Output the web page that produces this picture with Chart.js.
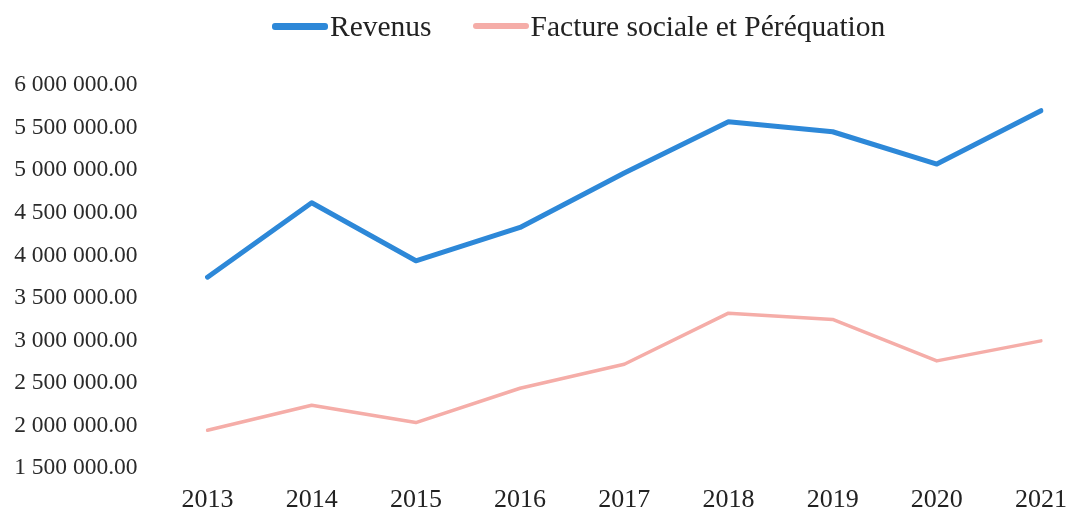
<!DOCTYPE html>
<html>
<head>
<meta charset="utf-8">
<script src="https://cdn.jsdelivr.net/npm/chart.js@4/dist/chart.umd.min.js"></script>
<style>
  html, body { margin: 0; padding: 0; background: #ffffff; }
  #wrap { position: relative; width: 1072px; height: 514px; }
  #c { position: absolute; left: 0; top: 0; }
  #legend {
    position: absolute; left: 272px; top: 8px; height: 36px;
    display: flex; align-items: center; gap: 41px;
    font-family: "Liberation Serif", "Times New Roman", serif; font-size: 29.5px;
    line-height: 36px; color: #222222; white-space: nowrap;
  }
  .lg-item { display: flex; align-items: center; }
  .lg-sw { display: inline-block; width: 56px; border-radius: 3px; margin-right: 2px; }
</style>
</head>
<body>
<div id="wrap">
  <canvas id="c" width="1072" height="514"></canvas>
  <div id="legend"></div>
</div>
<script>
// ---- Data ----
const years = ['2013', '2014', '2015', '2016', '2017', '2018', '2019', '2020', '2021'];
const revenus = [3744000, 4617000, 3936000, 4328000, 4966000, 5569000, 5451000, 5072000, 5698000];
const facture = [1947000, 2241000, 2037000, 2440000, 2722000, 3321000, 3247000, 2761000, 2996000];
const seriesNames = ['Revenus', 'Facture sociale et Péréquation'];
const yMin = 1500000;
const yMax = 6000000;
const yStep = 500000;

function fmt(v) {
  const s = Number(v).toFixed(2);
  const parts = s.split('.');
  const intPart = parts[0].replace(/\B(?=(\d{3})+(?!\d))/g, ' ');
  return intPart + '.' + parts[1];
}

const htmlLegend = {
  id: 'htmlLegend',
  afterUpdate(chart) {
    const el = document.getElementById('legend');
    el.innerHTML = '';
    chart.data.datasets.forEach((ds) => {
      const item = document.createElement('div');
      item.className = 'lg-item';
      const sw = document.createElement('span');
      sw.className = 'lg-sw';
      sw.style.background = ds.borderColor;
      sw.style.height = ds.legendThickness + 'px';
      const tx = document.createElement('span');
      tx.textContent = ds.label;
      item.appendChild(sw);
      item.appendChild(tx);
      el.appendChild(item);
    });
  }
};

const serif = 'Liberation Serif';

new Chart(document.getElementById('c'), {
  type: 'line',
  data: {
    labels: years,
    datasets: [
      {
        label: seriesNames[0],
        data: revenus,
        borderColor: '#2D88D8',
        backgroundColor: '#2D88D8',
        borderWidth: 5,
        legendThickness: 7,
        pointRadius: 0,
        tension: 0,
        borderCapStyle: 'round',
        borderJoinStyle: 'round'
      },
      {
        label: seriesNames[1],
        data: facture,
        borderColor: '#F5ADA8',
        backgroundColor: '#F5ADA8',
        borderWidth: 3.5,
        legendThickness: 6,
        pointRadius: 0,
        tension: 0,
        borderCapStyle: 'round',
        borderJoinStyle: 'round'
      }
    ]
  },
  options: {
    responsive: false,
    animation: false,
    devicePixelRatio: 1,
    layout: { padding: { top: 85, left: 12, right: 31, bottom: 0 } },
    plugins: {
      legend: { display: false },
      tooltip: { enabled: false }
    },
    scales: {
      x: {
        type: 'category',
        offset: false,
        grid: { display: false, drawTicks: false },
        border: { display: false },
        ticks: {
          color: '#222222',
          font: { family: serif, size: 26 },
          padding: 16,
          maxRotation: 0,
          autoSkip: false
        },
        afterFit: (s) => { s.height = 45.7; s.paddingLeft = 0; s.paddingRight = 0; }
      },
      y: {
        min: yMin,
        max: yMax,
        grid: { display: false, drawTicks: false },
        border: { display: false },
        ticks: {
          stepSize: yStep,
          color: '#2a2a2a',
          font: { family: serif, size: 23.5 },
          padding: 70,
          callback: (v) => fmt(v)
        },
        afterFit: (s) => { s.width = 195.5; s.paddingTop = 0; s.paddingBottom = 0; }
      }
    }
  },
  plugins: [htmlLegend]
});
</script>
</body>
</html>
